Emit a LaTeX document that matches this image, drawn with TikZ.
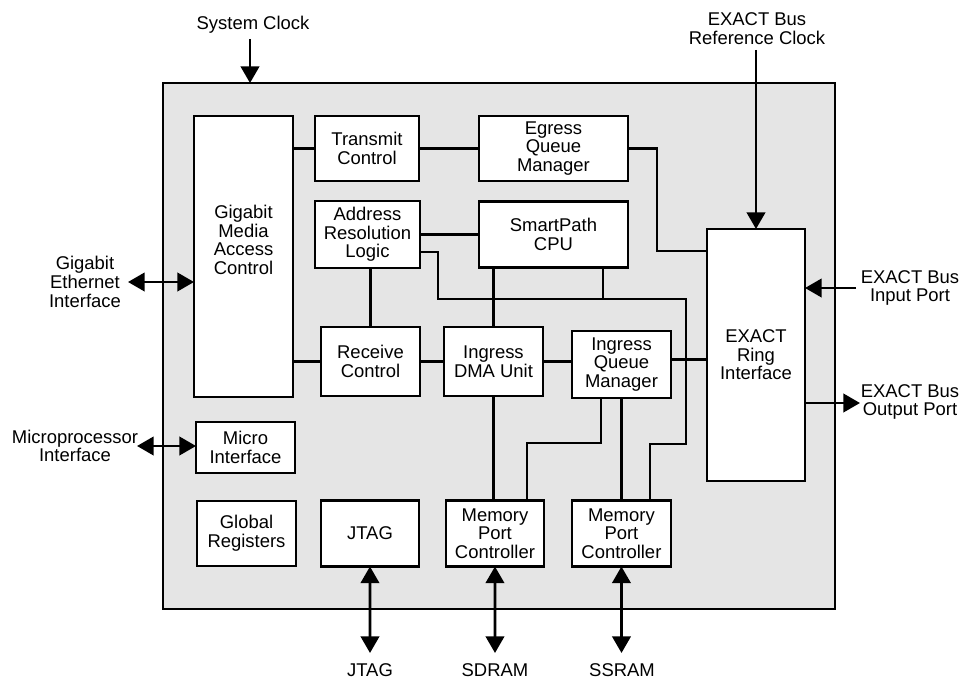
\documentclass[tikz,border=0pt]{standalone}
\usepackage{fontspec}
\setmainfont{Liberation Sans}
\usepackage{tikz}
\usetikzlibrary{shapes,arrows.meta}
\usetikzlibrary{positioning}
\definecolor{chipgray}{gray}{0.9}
\tikzset{auto, >={Triangle[length=9.5pt,width=10.5pt]}, font=\fontsize{10.5}{10.6}\selectfont}
\tikzstyle{chip} = [draw, fill=chipgray, rectangle, minimum width=13.44cm, minimum height=10.52cm, outer sep=0pt]
\tikzstyle{block} = [draw, fill=white, rectangle, minimum width=1.98cm, minimum height=1.32cm, inner sep=1pt, outer sep=0pt, text centered, align=center]
\tikzstyle{iolabel} = [align=center, inner sep=0pt]

\begin{document}
\begin{tikzpicture}[x=0.02cm, y=-0.02cm, line width=1.6pt]
    \useasboundingbox (0,0) rectangle (974,679);
    \node [chip] (chip) at (499,346) {};

    \node [block, minimum height=5.62cm,
           label={[iolabel, yshift=0.33cm]center:Gigabit\\Media\\Access\\Control}] (gmac) at (243.5,256.5) {};
    \node [block, minimum width=2.08cm, minimum height=1.30cm] (tx) at (367,148.5) {Transmit\\Control};
    \node [block, minimum width=2.98cm, minimum height=1.30cm, right=1.2cm of tx] (egress) {Egress\\Queue\\Manager};
    \node [block, minimum width=2.10cm, minimum height=1.34cm] (arl) at (367.5,234.5) {Address\\Resolution\\Logic};
    \node [block, minimum width=2.98cm, right=1.18cm of arl] (cpu) {SmartPath\\CPU};
    \node [block, minimum height=1.38cm] (rx) at (370.5,361.5) {Receive\\Control};
    \node [block, minimum height=1.38cm, right=0.48cm of rx] (dma) {Ingress\\DMA Unit};
    \node [block, minimum height=1.34cm] (iqm) at (621.5,364.5) {Ingress\\Queue\\Manager};
    \node [block, minimum width=1.96cm, minimum height=5.04cm] (exact) at (756,355) {EXACT\\Ring\\Interface};
    \node [block, minimum height=1.02cm] (micro) at (245.5,447.5) {Micro\\Interface};
    \node [block, minimum height=1.30cm] (glob) at (246.5,533.5) {Global\\Registers};
    \node [block, minimum width=1.96cm, right=0.5cm of glob] (jtag) {JTAG};
    \node [block, minimum width=1.96cm, right=0.54cm of jtag] (mpc1) {Memory\\Port\\Controller};
    \node [block, right=0.56cm of mpc1] (mpc2) {Memory\\Port\\Controller};

    % outside pins
    \coordinate (clk) at (250,39);
    \coordinate (refclk) at (756,50);
    \coordinate (inport) at (856,288);
    \coordinate (outport) at (860,403);
    \coordinate (gbe) at (128,282);
    \coordinate (upif) at (137,446);
    \coordinate (jtagpin) at (370,653);
    \coordinate (sdrampin) at (495,653);
    \coordinate (ssrampin) at (621.5,653);

    \node [iolabel] (clk_text) at (253,25) {System Clock};
    \node [iolabel] (refclk_text) at (757,28.5) {EXACT Bus\\Reference Clock};
    \node [iolabel] (inport_text) at (910,288) {EXACT Bus\\Input Port};
    \node [iolabel] (outport_text) at (910,402) {EXACT Bus\\Output Port};
    \node [iolabel] (gbe_text) at (85,282) {Gigabit\\Ethernet\\Interface};
    \node [iolabel] (upif_text) at (75,446) {Microprocessor\\Interface};
    \node [iolabel] (jtag_text) at (370,670.5) {JTAG};
    \node [iolabel] (sdram_text) at (495,670.5) {SDRAM};
    \node [iolabel] (ssram_text) at (622,670.5) {SSRAM};

    \draw (tx.west -| gmac.east) -- (tx.west);
    \draw (tx.east) -- (egress.west);
    \draw (egress.east) -- ++(29,0) |- ([yshift=-0.44cm]exact.north west);
    \draw (arl.east) -- (cpu.west);
    \draw ([yshift=-0.35cm]arl.east) -| ++(18,47) -| ++(248,145) -| ([xshift=0.57cm]mpc2.north);
    \draw ([xshift=0.99cm]cpu.south) -- ++(0,32);
    \draw (cpu.south -| dma.north) -- (dma.north);
    \draw (arl.south -| rx.north) -- (rx.north);
    \draw (rx.west -| gmac.east) -- (rx.west);
    \draw (rx.east) -- (dma.west);
    \draw (dma.east) -- (dma.east -| iqm.west);
    \draw (iqm.6) -- (iqm.6 -| exact.west);
    \draw (dma.south) -- (dma.south |- mpc1.north);
    \draw ([xshift=-0.41cm]iqm.south) -- ++(0,45) -| ([xshift=0.64cm]mpc1.north);
    \draw (iqm.south) -- (iqm.south |- mpc2.north);

    \draw [->] (clk) -- (clk |- chip.north);
    \draw [->] (refclk) -- (exact.north);
    \draw [->] (inport) -- (inport -| exact.east);
    \draw [->] (outport -| exact.east) -- (outport);
    \draw [<->] (gbe) -- (gbe -| gmac.west);
    \draw [<->] (upif) -- (upif -| micro.west);
    \draw [<->] (jtagpin) -- (jtag.south);
    \draw [<->] (sdrampin) -- (mpc1.south);
    \draw [<->] (ssrampin) -- (mpc2.south);
\end{tikzpicture}
\end{document}
